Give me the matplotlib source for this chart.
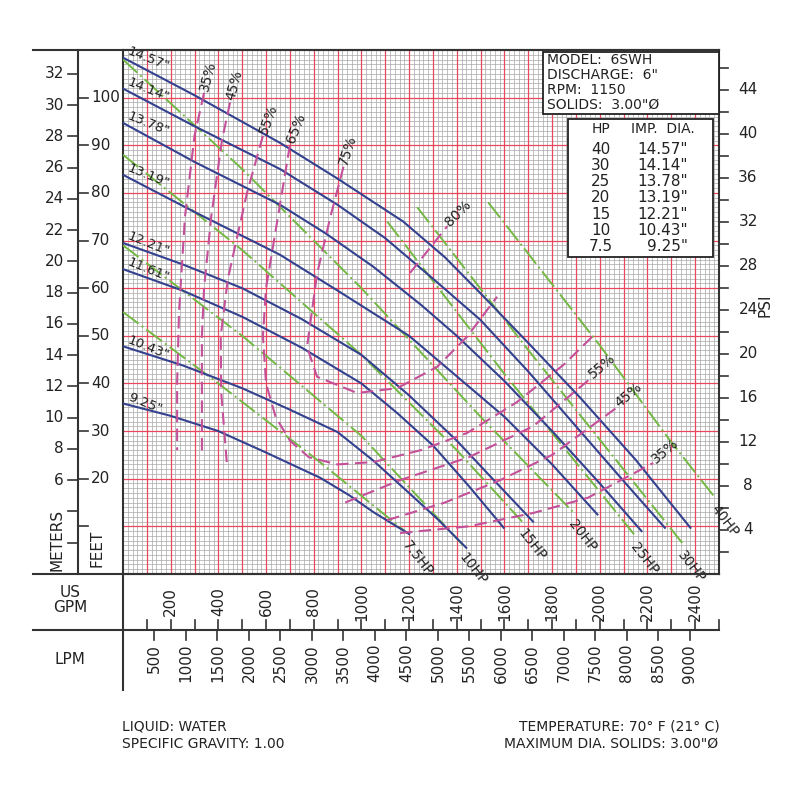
import matplotlib
matplotlib.use("Agg")
import matplotlib.pyplot as plt
from matplotlib.transforms import blended_transform_factory as btf

# ---- data ----
imp_labels = ['14.57"', '14.14"', '13.78"', '13.19"', '12.21"', '11.61"', '10.43"', '9.25"']
imp_q = [
    [0, 300, 659, 900, 1175, 1350, 1498, 1700, 1918, 2150, 2380],
    [0, 300, 659, 900, 1100, 1300, 1498, 1700, 1900, 2100, 2273],
    [0, 300, 659, 850, 1050, 1250, 1400, 1600, 1800, 2000, 2175],
    [0, 300, 659, 900, 1200, 1400, 1600, 1800, 1990],
    [0, 250, 500, 750, 1000, 1200, 1400, 1550, 1720],
    [0, 250, 500, 750, 1000, 1150, 1300, 1450, 1597],
    [0, 250, 500, 700, 900, 1050, 1200, 1320, 1440],
    [0, 200, 400, 600, 827, 950, 1050, 1200],
]
imp_h = [
    [108.4, 100.5, 90.5, 83, 74, 66.5, 59, 48.5, 37, 24, 9.7],
    [101.9, 94, 85, 77.5, 70.5, 62, 53.4, 42.5, 31, 19.5, 9.7],
    [94.7, 86.5, 77.5, 71.5, 64.5, 56.5, 50, 40.5, 30, 19, 9],
    [83.8, 76, 67, 59.5, 50, 41.5, 33, 23, 12.5],
    [69.5, 65, 60, 53.5, 46, 37.5, 28, 20, 11],
    [64, 59.5, 54, 47.5, 40, 33.8, 27, 18.5, 9.7],
    [47.8, 43.8, 39, 34.5, 29.8, 23.8, 17, 11.5, 5.5],
    [35.8, 33.2, 30, 25.5, 20.2, 16.5, 13, 8.4],
]
hp_labels = ['7.5HP', '10HP', '15HP', '20HP', '25HP', '30HP', '40HP']
hp_q = [
    [0, 400, 826, 1192],
    [0, 500, 1000, 1427],
    [0, 500, 1000, 1400, 1674],
    [0, 500, 1000, 1500, 1888],
    [1108, 1600, 2149],
    [1234, 1700, 2346],
    [1532, 2000, 2295, 2484],
]
hp_h = [
    [55, 40, 23.5, 8.6],
    [69, 50, 29, 6],
    [88, 68, 46, 26, 11],
    [108, 85, 60, 33, 13],
    [74, 42, 8],
    [77, 47, 6.5],
    [78, 48, 28, 16],
]
eff_labels = ['35%', '45%', '55%', '65%', '75%', '80%', '55%', '45%', '35%']
eff_q = [
    [340, 300, 260, 235, 227, 227],
    [449, 415, 370, 340, 331, 331],
    [587, 520, 440, 410, 412, 436],
    [700, 650, 600, 587, 600, 640, 700, 780, 900, 1050, 1250, 1443, 1650, 1850, 1972],
    [925, 870, 814, 772, 814, 982, 1150, 1318, 1443, 1569],
    [1204, 1360],
    [932, 1162, 1450, 1720, 1960],
    [1108, 1350, 1582, 1800, 2073],
    [1162, 1450, 1720, 1950, 2224],
]
eff_h = [
    [101, 92, 75, 55, 40, 26],
    [99, 91, 75, 60, 50, 25],
    [92, 80, 62, 50, 38, 23],
    [90, 75, 60, 50, 40, 33, 28, 24.5, 23, 23.5, 26, 29.6, 36, 44, 50],
    [85.5, 75, 63, 47.7, 41.4, 38, 39, 43.5, 49.8, 58.2],
    [63.2, 73],
    [15, 19.7, 24.5, 31, 41],
    [11.3, 15, 19.7, 25, 35],
    [8.6, 10, 12.8, 16, 23.3],
]
meter_ticks = list(range(6, 34, 2))
feet_ticks = list(range(20, 110, 10))
psi_ticks = list(range(4, 48, 4))
gpm_ticks = list(range(200, 2600, 200))
lpm_ticks = list(range(500, 9500, 500))
table_hp = ['40', '30', '25', '20', '15', '10', '7.5']
table_dia = ['14.57"', '14.14"', '13.78"', '13.19"', '12.21"', '10.43"', '9.25"']

BLUE = '#33418f'
GREEN = '#72b843'
MAG = '#c4509a'
RED = '#e8475c'
FONT = 'DejaVu Sans'

fig = plt.figure(figsize=(8, 8), dpi=100)
W, H = 800, 800
L, R, T, B = 123, 719, 50, 574
ax = fig.add_axes([L / W, 1 - B / H, (R - L) / W, (B - T) / H])
ax.set_xlim(0, 2500)
ax.set_ylim(0, 110)
ax.set_xticks([]); ax.set_yticks([])
for s in ax.spines.values():
    s.set_color('#333333'); s.set_linewidth(1.5)

for q in range(0, 2501, 20):
    ax.axvline(q, color='#a8a8a8', lw=0.5, zorder=0)
for h in range(0, 111, 1):
    ax.axhline(h, color='#a8a8a8', lw=0.5, zorder=0)
for q in range(100, 2500, 100):
    ax.axvline(q, color=RED, lw=0.9, zorder=1)
for h in range(10, 110, 10):
    ax.axhline(h, color=RED, lw=0.9, zorder=1)

for q, h in zip(hp_q, hp_h):
    ax.plot(q, h, color=GREEN, lw=1.4, ls=(0, (10, 2, 1, 2)), zorder=3)
for q, h in zip(imp_q, imp_h):
    ax.plot(q, h, color=BLUE, lw=1.5, zorder=4)
for q, h in zip(eff_q, eff_h):
    ax.plot(q, h, color=MAG, lw=1.5, ls=(0, (6, 3)), zorder=5)

tk = dict(fontfamily=FONT, color='#222222')
for lab, q, h in zip(imp_labels, imp_q, imp_h):
    ax.text(q[0] + 12, h[0] + 0.2, lab, rotation=-22, fontsize=9.5, ha='left', va='bottom',
            rotation_mode='anchor', zorder=6, **tk)
for lab, q, h in zip(hp_labels, hp_q, hp_h):
    ax.text(q[-1] + 15, h[-1] - 1, lab, rotation=-52, fontsize=10, ha='left', va='top',
            rotation_mode='anchor', zorder=6, **tk)
eff_rot = [75, 75, 70, 68, 72, 45, 40, 40, 40]
for i, (lab, q, h) in enumerate(zip(eff_labels, eff_q, eff_h)):
    j = 0 if i < 5 else -1
    ax.text(q[j], h[j] + 0.5, lab, rotation=eff_rot[i], fontsize=10, ha='left', va='center',
            rotation_mode='anchor', zorder=6, **tk)

# ---- left / right scales ----
tr = btf(fig.transFigure, ax.transData)
fx = lambda px: px / W
ax.plot([fx(78), fx(78)], [0, 110], transform=tr, clip_on=False, color='#333333', lw=1.5)
for m in range(2, 34, 2):
    ax.plot([fx(68), fx(78)], [m * 3.2808] * 2, transform=tr, clip_on=False, color='#333333', lw=1.2)
for m in meter_ticks:
    ax.text(fx(64), m * 3.2808, str(m), transform=tr, ha='right', va='center', fontsize=11, **tk)
for f in range(10, 110, 10):
    ax.plot([fx(78), fx(88)], [f, f], transform=tr, clip_on=False, color='#333333', lw=1.2)
for f in feet_ticks:
    ax.text(fx(91), f, str(f), transform=tr, ha='left', va='center', fontsize=11, **tk)
for p in range(2, 48, 2):
    ax.plot([fx(719), fx(728)], [p * 2.31] * 2, transform=tr, clip_on=False, color='#333333', lw=1.2)
for p in psi_ticks:
    ax.text(fx(748), p * 2.31, str(p), transform=tr, ha='center', va='center', fontsize=11, **tk)
fig.text(fx(765), 1 - 305 / H, 'PSI', rotation=90, ha='center', va='center', fontsize=11, **tk)
fig.text(fx(57), 1 - 540 / H, 'METERS', rotation=90, ha='center', va='center', fontsize=11, **tk)
fig.text(fx(97), 1 - 548 / H, 'FEET', rotation=90, ha='center', va='center', fontsize=11, **tk)

def fline(x0, y0, x1, y1, lw=1.5):
    fig.add_artist(plt.Line2D([x0 / W, x1 / W], [1 - y0 / H, 1 - y1 / H], color='#333333', lw=lw))
fline(33, 50, 719, 50)
fline(33, 574, 719, 574)
fline(33, 630, 719, 630)
fline(123, 574, 123, 690)

# ---- bottom scales ----
trb = btf(ax.transData, fig.transFigure)
fy = lambda py: 1 - py / H
for q in range(100, 2501, 100):
    ax.plot([q, q], [fy(620), fy(630)], transform=trb, clip_on=False, color='#333333', lw=1.2)
for q in gpm_ticks:
    ax.text(q, fy(602), str(q), transform=trb, rotation=90, ha='center', va='center', fontsize=11, **tk)
for l in lpm_ticks:
    q = l / 3.785
    ax.plot([q, q], [fy(630), fy(640)], transform=trb, clip_on=False, color='#333333', lw=1.2)
    ax.text(q, fy(644), str(l), transform=trb, rotation=90, ha='center', va='top', fontsize=11, **tk)
fig.text(fx(70), fy(600), 'US\nGPM', ha='center', va='center', fontsize=11, linespacing=0.95, **tk)
fig.text(fx(70), fy(660), 'LPM', ha='center', va='center', fontsize=11, **tk)

# ---- info boxes ----
fig.add_artist(plt.Rectangle((543 / W, fy(114)), 176 / W, 62 / H, fill=True, facecolor='white',
                             edgecolor='#222222', lw=1.3, zorder=10))
for i, t in enumerate(['MODEL:  6SWH', 'DISCHARGE:  6"', 'RPM:  1150', 'SOLIDS:  3.00"Ø']):
    fig.text(fx(547), fy(60 + i * 15), t, ha='left', va='center', fontsize=10, zorder=11, **tk)
fig.add_artist(plt.Rectangle((568 / W, fy(257)), 145 / W, 138 / H, fill=True, facecolor='white',
                             edgecolor='#222222', lw=1.3, zorder=10))
fline(568, 139, 713, 139, lw=1.2)
fig.text(fx(601), fy(129), 'HP', ha='center', va='center', fontsize=10, zorder=11, **tk)
fig.text(fx(663), fy(129), 'IMP.  DIA.', ha='center', va='center', fontsize=10, zorder=11, **tk)
for i, (a, b) in enumerate(zip(table_hp, table_dia)):
    fig.text(fx(601), fy(149 + i * 16.3), a, ha='center', va='center', fontsize=11, zorder=11, **tk)
    fig.text(fx(688), fy(149 + i * 16.3), b, ha='right', va='center', fontsize=11, zorder=11, **tk)

fig.text(fx(122), fy(727), 'LIQUID: WATER', ha='left', va='center', fontsize=10, **tk)
fig.text(fx(122), fy(744), 'SPECIFIC GRAVITY: 1.00', ha='left', va='center', fontsize=10, **tk)
fig.text(fx(720), fy(727), 'TEMPERATURE: 70° F (21° C)', ha='right', va='center', fontsize=10, **tk)
fig.text(fx(718), fy(744), 'MAXIMUM DIA. SOLIDS: 3.00"Ø', ha='right', va='center', fontsize=10, **tk)

fig.savefig('out.png', dpi=100, facecolor='white')
